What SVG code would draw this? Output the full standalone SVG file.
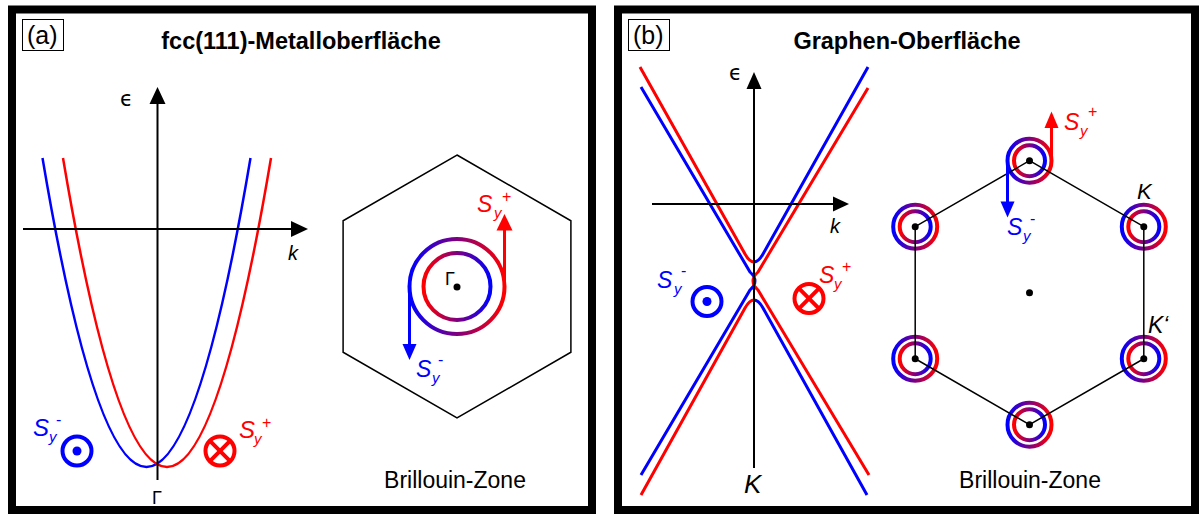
<svg xmlns="http://www.w3.org/2000/svg" xmlns:xlink="http://www.w3.org/1999/xlink" width="1199" height="514" viewBox="0 0 1199 514">
<style>
.frame{fill:#fff;stroke:#000;stroke-width:8}
.tagbox{fill:none;stroke:#000;stroke-width:1}
.t{font-family:"Liberation Sans",Arial,sans-serif;fill:#000}
.title{font-weight:bold;font-size:23.5px;text-anchor:middle}
.tag{font-size:25px}
.bz{font-size:23px;text-anchor:middle}
.ax{stroke:#000;stroke-width:2;fill:none}
.head{fill:#000}
.hex{fill:none;stroke:#000;stroke-width:1.5}
.band{fill:none;stroke-width:3}
.para{fill:none;stroke-width:2.5}
.b{stroke:#0000ff}
.r{stroke:#ff0000}
.bf{fill:#0000ff}
.rf{fill:#ff0000}
.ring{fill:none;stroke-width:4}
.it{font-style:italic}
.S{font-style:italic;font-size:23px}
.sub{font-style:italic;font-size:15px}
.sup{font-size:16px}
.eps{font-family:"DejaVu Sans","Liberation Sans",sans-serif;font-size:21px;fill:#000}
.dot{fill:#000}
.arr{stroke-width:3;fill:none}
</style>
<defs>
<linearGradient id="gBR" x1="0" y1="0" x2="1" y2="0"><stop offset="0" stop-color="#0000ff"/><stop offset="1" stop-color="#ff0000"/></linearGradient>
<linearGradient id="gRB" x1="0" y1="0" x2="1" y2="0"><stop offset="0" stop-color="#ff0000"/><stop offset="1" stop-color="#0000ff"/></linearGradient>
<g id="rings"><circle class="ring" r="22" stroke="url(#gBR)"/><circle class="ring" r="15.5" stroke="url(#gRB)"/></g>
</defs>
<rect width="1199" height="514" fill="#fff"/>

<!-- Panel a -->
<g id="panel-a">
<rect class="frame" x="12" y="9.5" width="580" height="500.5"/>
<rect class="tagbox" x="22.5" y="19.5" width="41" height="31"/>
<text class="t tag" x="27" y="44">(a)</text>
<text class="t title" x="301" y="49">fcc(111)-Metalloberfläche</text>
</g>

<g id="bands-a">
<path class="para b" d="M42.5 158 Q146.5 776 250.5 158"/>
<path class="para r" d="M63 158 Q167 776 271 158"/>
</g>

<g id="axes-a">
<line class="ax" x1="157.5" y1="480" x2="157.5" y2="100"/>
<polygon class="head" points="157.5,87 149.5,104 165.5,104"/>
<line class="ax" x1="23" y1="229" x2="295" y2="229"/>
<polygon class="head" points="308,229 291,221 291,237"/>
<text class="eps" x="120" y="106">ϵ</text>
<text class="t it" x="288" y="260" font-size="20">k</text>
<text class="t" x="157" y="504" font-size="18" text-anchor="middle">Γ</text>
</g>

<g id="spin-minus-a">
<text class="t S" x="33" y="436" style="fill:#0000ff;font-size:24px">S</text>
<text class="t sub" x="49" y="442" style="fill:#0000ff">y</text>
<text class="t sup" x="56" y="425" style="fill:#0000ff">-</text>
<circle class="ring b" cx="77" cy="451" r="14.5"/>
<circle class="bf" cx="77" cy="451" r="4.5"/>
</g>

<g id="spin-plus-a">
<circle class="ring r" cx="220" cy="451" r="14.5"/>
<path class="r" stroke-width="4" d="M209.7 440.7 L230.3 461.3 M230.3 440.7 L209.7 461.3"/>
<text class="t S" x="239" y="438" style="fill:#ff0000;font-size:24px">S</text>
<text class="t sub" x="254" y="444" style="fill:#ff0000">y</text>
<text class="t sup" x="262" y="428" style="fill:#ff0000">+</text>
</g>

<g id="bz-a">
<polygon class="hex" points="457,155 570.9,220.75 570.9,352.25 457,418 343.1,352.25 343.1,220.75"/>
<circle class="ring" cx="457" cy="286.5" r="47.5" stroke="url(#gBR)"/>
<circle class="ring" cx="457" cy="286.5" r="33.5" stroke="url(#gRB)"/>
<line class="arr b" x1="409.5" y1="286.5" x2="409.5" y2="346"/>
<polygon class="bf" points="409.5,360 402.5,344 416.5,344"/>
<line class="arr r" x1="504.5" y1="286.5" x2="504.5" y2="228"/>
<polygon class="rf" points="504.5,214 496.5,230.5 512.5,230.5"/>
<circle class="dot" cx="457" cy="287" r="3.5"/>
<text class="t" x="445" y="285" font-size="18">Γ</text>
<text class="t S" x="477" y="212" style="fill:#ff0000">S</text>
<text class="t sub" x="494" y="218" style="fill:#ff0000">y</text>
<text class="t sup" x="502" y="202" style="fill:#ff0000">+</text>
<text class="t S" x="416" y="377" style="fill:#0000ff">S</text>
<text class="t sub" x="432" y="383" style="fill:#0000ff">y</text>
<text class="t sup" x="438" y="365" style="fill:#0000ff">-</text>
<text class="t bz" x="455" y="488">Brillouin-Zone</text>
</g>

<!-- Panel b -->
<g id="panel-b">
<rect class="frame" x="618" y="9.5" width="577" height="500.5"/>
<rect class="tagbox" x="628.5" y="19.5" width="41" height="31"/>
<text class="t tag" x="633" y="44">(b)</text>
<text class="t title" x="907" y="49">Graphen-Oberfläche</text>
</g>

<g id="bands-b">
<path class="band b" d="M641 87 L750 272 Q760 281 750 290 L641 475"/>
<path class="band r" d="M868 88 L758 272 Q748 281 758 290 L869 475"/>
<path class="band r" d="M640 67 L745 254 Q749.5 262 754 262"/>
<path class="band b" d="M868 67 L763 254 Q758.5 262 754 262"/>
<path class="band r" d="M641 495 L745 308 Q749.5 300 754 300"/>
<path class="band b" d="M867 495 L763 308 Q758.5 300 754 300"/>
</g>

<g id="axes-b">
<line class="ax" x1="754" y1="468" x2="754" y2="85"/>
<polygon class="head" points="754,72 746.5,89 761.5,89"/>
<line class="ax" x1="652" y1="204" x2="836" y2="204"/>
<polygon class="head" points="849,204 833,196.5 833,211.5"/>
<text class="eps" x="729" y="80">ϵ</text>
<text class="t it" x="830" y="233" font-size="20">k</text>
<text class="t it" x="744" y="493" font-size="26">K</text>
</g>

<g id="spin-minus-b">
<text class="t S" x="657" y="288" style="fill:#0000ff">S</text>
<text class="t sub" x="674" y="294" style="fill:#0000ff">y</text>
<text class="t sup" x="681" y="276" style="fill:#0000ff">-</text>
<circle class="ring b" cx="707" cy="301.5" r="14.5"/>
<circle class="bf" cx="707" cy="301.5" r="4.5"/>
</g>

<g id="spin-plus-b">
<circle class="ring r" cx="809" cy="298.5" r="14.5"/>
<path class="r" stroke-width="4" d="M798.7 288.2 L819.3 308.8 M819.3 288.2 L798.7 308.8"/>
<text class="t S" x="819" y="283" style="fill:#ff0000">S</text>
<text class="t sub" x="834" y="289" style="fill:#ff0000">y</text>
<text class="t sup" x="842" y="272" style="fill:#ff0000">+</text>
</g>

<g id="bz-b">
<use xlink:href="#rings" href="#rings" x="1029.5" y="160.7"/>
<use xlink:href="#rings" href="#rings" x="1143.8" y="226.7"/>
<use xlink:href="#rings" href="#rings" x="1143.8" y="358.7"/>
<use xlink:href="#rings" href="#rings" x="1029.5" y="424.7"/>
<use xlink:href="#rings" href="#rings" x="915.2" y="358.7"/>
<use xlink:href="#rings" href="#rings" x="915.2" y="226.7"/>
<polygon class="hex" points="1029.5,160.7 1143.8,226.7 1143.8,358.7 1029.5,424.7 915.2,358.7 915.2,226.7"/>
<line class="arr b" x1="1007.5" y1="160.7" x2="1007.5" y2="204"/>
<polygon class="bf" points="1007.5,217.5 1000.5,201.5 1014.5,201.5"/>
<line class="arr r" x1="1051.5" y1="160.7" x2="1051.5" y2="126"/>
<polygon class="rf" points="1051.5,111.5 1044.5,128 1058.5,128"/>
<circle class="dot" cx="1029.5" cy="160.7" r="3.5"/>
<circle class="dot" cx="1143.8" cy="226.7" r="3.5"/>
<circle class="dot" cx="1143.8" cy="358.7" r="3.5"/>
<circle class="dot" cx="1029.5" cy="424.7" r="3.5"/>
<circle class="dot" cx="915.2" cy="358.7" r="3.5"/>
<circle class="dot" cx="915.2" cy="226.7" r="3.5"/>
<circle class="dot" cx="1029.5" cy="292.7" r="3.5"/>
<text class="t S" x="1064" y="130" style="fill:#ff0000">S</text>
<text class="t sub" x="1080" y="136" style="fill:#ff0000">y</text>
<text class="t sup" x="1088" y="117" style="fill:#ff0000">+</text>
<text class="t S" x="1007" y="235" style="fill:#0000ff">S</text>
<text class="t sub" x="1023" y="241" style="fill:#0000ff">y</text>
<text class="t sup" x="1030" y="224" style="fill:#0000ff">-</text>
<text class="t it" x="1137" y="199" font-size="22">K</text>
<text class="t it" x="1148" y="333" font-size="23">K‘</text>
<text class="t bz" x="1030" y="488">Brillouin-Zone</text>
</g>
</svg>
